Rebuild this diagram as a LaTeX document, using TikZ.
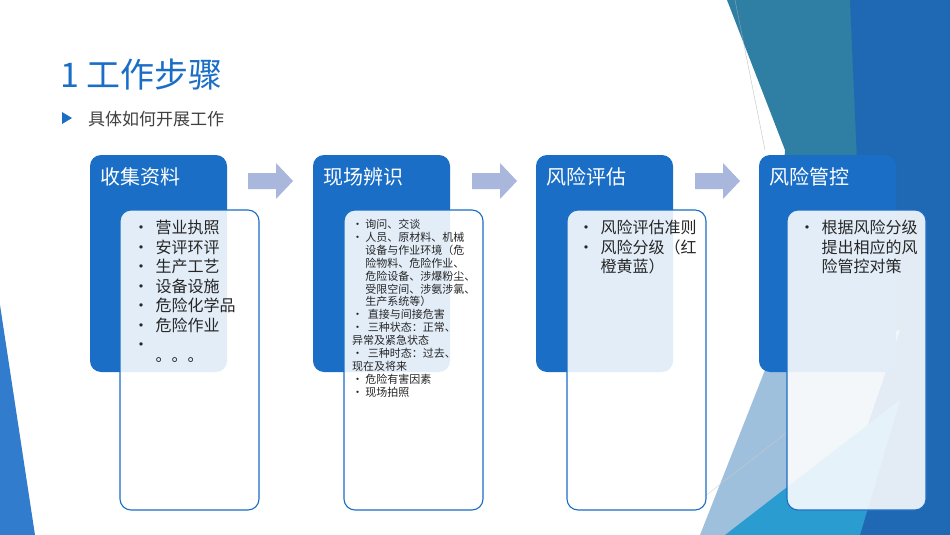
\documentclass[tikz,border=0pt]{standalone}
\usepackage{fontspec}
\setmainfont{Noto Sans CJK SC}
\begin{document}
\begin{tikzpicture}[x=1pt,y=-1pt,
  dark/.style={fill=blue1,rounded corners=11pt},
  light/.style={draw=blue1,line width=1.1pt,fill=white,fill opacity=0.88,rounded corners=11pt},
  head/.style={anchor=west,text=white,font=\fontsize{20}{22}\selectfont,inner sep=0},
  body/.style={anchor=north west,align=left,text=black!85,inner sep=0},
  arr/.style={fill=arrowc}]
\definecolor{blue1}{HTML}{1A6EC6}
\definecolor{arrowc}{HTML}{A9B7DD}
\definecolor{teal1}{HTML}{2E7FA3}
\definecolor{blue2}{HTML}{1E68B4}
\definecolor{lb}{HTML}{9FC0DC}
\definecolor{cy}{HTML}{2A9CCF}
\newcommand{\bl}[2][1.4em]{\makebox[#1][l]{•}#2}
\newcommand{\cn}[2][1.4em]{\hspace*{#1}#2}
\fill[white] (0,0) rectangle (950,535);
\useasboundingbox (0,0) rectangle (950,535);
% right decoration
\fill[teal1] (727,0) -- (950,0) -- (950,535) -- (760,535) -- (785,150) -- cycle;
\fill[blue2] (850,0) -- (950,0) -- (950,535) -- (800,535) -- (860,230) -- cycle;
\fill[lb] (700,535) -- (765,370) -- (900,330) -- (830,535) -- cycle;
\fill[cy] (725,535) -- (900,400) -- (860,535) -- cycle;
\draw[black!30,line width=0.3pt] (735,0) -- (765,150);
\draw[black!20,line width=0.3pt] (700,500) -- (790,430);
% left decoration
\fill[blue1!90] (0,305) -- (35,535) -- (0,535) -- cycle;
% title
\node[anchor=west,text=blue1,font=\fontsize{34}{36}\selectfont,inner sep=0] (title) at (60,75) {1 工作步骤};
\fill[blue1] (62,112) -- (72,118) -- (62,124) -- cycle;
\node[anchor=west,text=black!75,font=\fontsize{17}{19}\selectfont,inner sep=0] (sub) at (88,119) {具体如何开展工作};
% arrows
\foreach \x/\n in {248/a1,472/a2,695/a3}{
  \fill[arrowc] (\x,173) -- (\x+28,173) -- (\x+28,163) -- (\x+45,181) -- (\x+28,199) -- (\x+28,189) -- (\x,189) -- cycle;
}
% cards
\foreach \dx/\n in {90/c1,313/c2,536/c3,759/c4}{
  \fill[dark] (\dx,155) rectangle (\dx+137,372);
}
\foreach \dx in {120,344,567,787}{
  \draw[light] (\dx,210) rectangle (\dx+139,510);
}
\node[head] (h1) at (100,177) {收集资料};
\node[head] (h2) at (323,177) {现场辨识};
\node[head] (h3) at (546,177) {风险评估};
\node[head] (h4) at (769,177) {风险管控};
\node[body,font=\fontsize{16}{19.5}\selectfont] (t1) at (133,220) {\bl{营业执照}\\\bl{安评环评}\\\bl{生产工艺}\\\bl{设备设施}\\\bl{危险化学品}\\\bl{危险作业}\\\bl{}\\[-9pt]\cn{。。。}};
\node[body,font=\fontsize{11}{12.9}\selectfont] (t2) at (352,219) {\bl[1.2em]{询问、交谈}\\\bl[1.2em]{人员、原材料、机械}\\\cn[1.2em]{设备与作业环境（危}\\\cn[1.2em]{险物料、危险作业、}\\\cn[1.2em]{危险设备、涉爆粉尘、}\\\cn[1.2em]{受限空间、涉氨涉氯、}\\\cn[1.2em]{生产系统等）}\\\bl[1.2em]{\ 直接与间接危害}\\\bl[1.2em]{\ 三种状态：正常、}\\异常及紧急状态\\\bl[1.2em]{\ 三种时态：过去、}\\现在及将来\\\bl[1.2em]{危险有害因素}\\\bl[1.2em]{现场拍照}};
\node[body,font=\fontsize{16}{19.5}\selectfont] (t3) at (578,220) {\bl{风险评估准则}\\\bl{风险分级（红}\\\cn{橙黄蓝）}};
\node[body,font=\fontsize{16}{19.5}\selectfont] (t4) at (799,220) {\bl{根据风险分级}\\\cn{提出相应的风}\\\cn{险管控对策}};
\end{tikzpicture}
\end{document}
